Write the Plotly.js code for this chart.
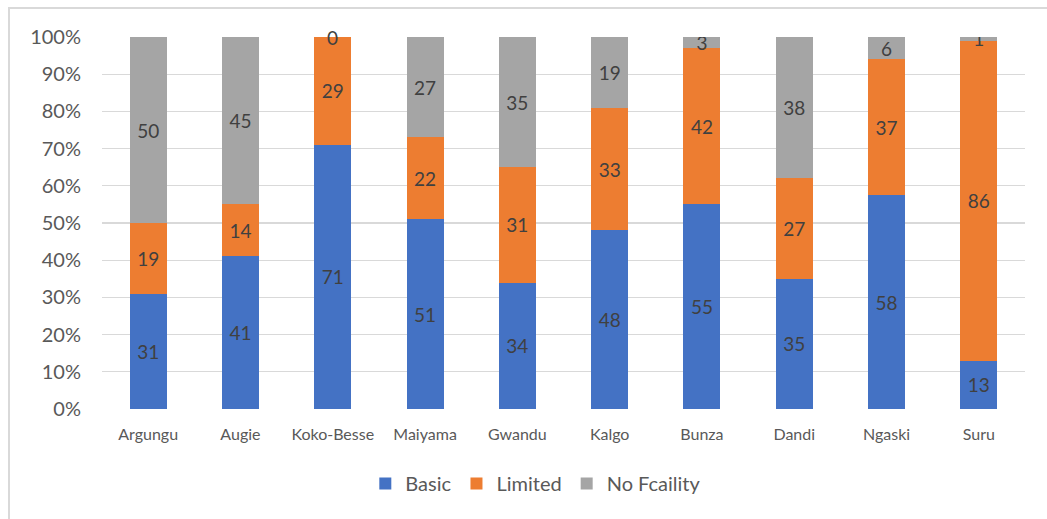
<!DOCTYPE html>
<html>
<head>
<meta charset="utf-8">
<script src="https://cdn.plot.ly/plotly-3.0.1.min.js"></script>
<style>
  html, body { margin: 0; padding: 0; background: #ffffff; }
  #wrap { position: relative; width: 1047px; height: 519px; overflow: hidden; }
  #chart { position: absolute; left: 0; top: 0; width: 1047px; height: 519px; }
  .frame-top { position: absolute; left: 8px; top: 7px; width: 1039px; height: 2px; background: #d9d9d9; }
  .frame-left { position: absolute; left: 8px; top: 7px; width: 2px; height: 512px; background: #d9d9d9; }
</style>
</head>
<body>
<div id="wrap">
  <div id="chart"></div>
  <div class="frame-top"></div>
  <div class="frame-left"></div>
</div>
<script>
// Local government areas
var categories = ['Argungu', 'Augie', 'Koko-Besse', 'Maiyama', 'Gwandu', 'Kalgo', 'Bunza', 'Dandi', 'Ngaski', 'Suru'];

// Share of facilities by service level
var basic      = [31, 41, 71, 51, 34, 48, 55, 35, 58, 13];
var limited    = [19, 14, 29, 22, 31, 33, 42, 27, 37, 86];
var noFacility = [50, 45, 0, 27, 35, 19, 3, 38, 6, 1];

var seriesNames  = ['Basic', 'Limited', 'No Fcaility'];
var seriesColors = ['#4472C4', '#ED7D31', '#A5A5A5'];

var yTicks = [0, 10, 20, 30, 40, 50, 60, 70, 80, 90, 100];

var labelFont = { family: 'Lato, "Open Sans", sans-serif', size: 19, color: '#404040' };

function barTrace(values, i) {
  return {
    type: 'bar',
    name: seriesNames[i],
    x: categories,
    y: values,
    marker: { color: seriesColors[i], line: { width: 0 } },
    text: values.map(function (v) { return v === 0 ? '' : String(v); }),
    textposition: 'inside',
    insidetextanchor: 'middle',
    constraintext: 'none',
    textangle: 0,
    textfont: labelFont,
    insidetextfont: labelFont,
    hoverinfo: 'skip'
  };
}

var traces = [barTrace(basic, 0), barTrace(limited, 1), barTrace(noFacility, 2)];

// Zero-height segments still get their label, placed at the segment's position
var annotations = [];
categories.forEach(function (c, k) {
  var total = basic[k] + limited[k] + noFacility[k];
  var series = [basic, limited, noFacility];
  var base = 0;
  series.forEach(function (s) {
    if (s[k] === 0) {
      annotations.push({
        x: c, y: (base / total) * 100, xref: 'x', yref: 'y',
        text: String(s[k]), showarrow: false,
        xanchor: 'center', yanchor: 'middle',
        font: labelFont
      });
    }
    base += s[k];
  });
});

var layout = {
  width: 1047,
  height: 519,
  margin: { l: 102, r: 22, t: 37, b: 110 },
  paper_bgcolor: 'rgba(0,0,0,0)',
  plot_bgcolor: 'rgba(0,0,0,0)',
  barmode: 'stack',
  barnorm: 'percent',
  bargap: 0.6,
  showlegend: true,
  legend: {
    orientation: 'h',
    x: 0.47, xanchor: 'center',
    y: -0.2, yanchor: 'middle',
    font: { family: 'Lato, "Open Sans", sans-serif', size: 20, color: '#595959' },
    traceorder: 'normal',
    itemclick: false
  },
  xaxis: {
    type: 'category',
    showgrid: false,
    showline: false,
    zeroline: false,
    ticks: '',
    ticklabelstandoff: 14,
    tickfont: { family: 'Lato, "Open Sans", sans-serif', size: 16, color: '#595959' }
  },
  yaxis: {
    range: [0, 100],
    tickvals: yTicks,
    ticktext: yTicks.map(function (t) { return t + '%'; }),
    showgrid: true,
    gridcolor: '#d9d9d9',
    gridwidth: 1.3,
    zeroline: false,
    showline: false,
    ticks: '',
    ticklabelstandoff: 20,
    tickfont: { family: 'Lato, "Open Sans", sans-serif', size: 20, color: '#595959' }
  },
  annotations: annotations
};

Plotly.newPlot('chart', traces, layout, { displayModeBar: false, staticPlot: true });
</script>
</body>
</html>
